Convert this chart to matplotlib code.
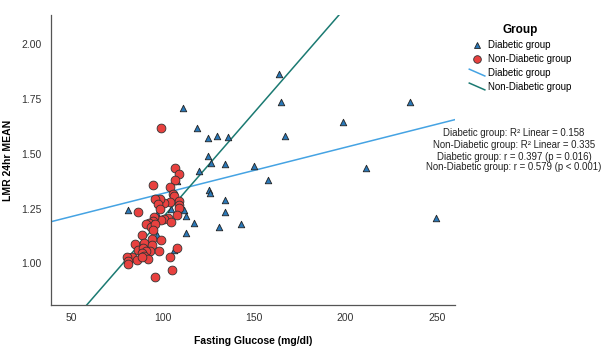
import matplotlib
matplotlib.use('Agg')
import matplotlib.pyplot as plt
from matplotlib.lines import Line2D
from matplotlib.legend_handler import HandlerBase
import numpy as np

plt.rcParams['font.family'] = ['Liberation Sans', 'DejaVu Sans']

# Diabetic group (triangles)
diab_x = [81, 97, 97, 104.5, 106, 108, 111, 112, 113, 113, 117, 119, 119.7, 125, 125,
          125.2, 126, 126.7, 130, 131, 133.9, 133.9, 133.9, 135.8, 142.9, 149.8, 157.6,
          163.8, 164.8, 166.7, 198.6, 211.4, 235.4, 249.5]
diab_y = [1.245, 1.225, 1.13, 1.248, 1.06, 1.377, 1.71, 1.245, 1.215, 1.14, 1.183, 1.616,
          1.42, 1.571, 1.49, 1.335, 1.32, 1.457, 1.583, 1.167, 1.452, 1.289, 1.236, 1.575,
          1.178, 1.443, 1.38, 1.864, 1.735, 1.583, 1.644, 1.437, 1.738, 1.208]

# Non-Diabetic group (circles)
nond_x = [99, 95, 106.6, 109, 106.8, 103.9, 105.6, 106, 109.2, 109.2, 109.2, 103.9, 100.6,
          98.8, 96.1, 97.5, 98.5, 86.8, 107.9, 103, 100.8, 104.8, 99, 95.2, 94.6, 92.8, 91,
          93.7, 95.7, 94.8, 94.3, 99, 88.8, 85.2, 89.7, 86.4, 89.3, 94, 93.2, 98.3, 91.2,
          88.8, 89.7, 92.1, 83.3, 80.6, 81.1, 81.1, 86, 88.8, 104, 107.9, 105, 96.1]
nond_y = [1.62, 1.36, 1.435, 1.41, 1.38, 1.35, 1.317, 1.31, 1.283, 1.268, 1.254, 1.279, 1.275,
          1.292, 1.292, 1.27, 1.25, 1.233, 1.219, 1.205, 1.204, 1.19, 1.196, 1.21, 1.195, 1.186,
          1.18, 1.166, 1.18, 1.152, 1.113, 1.108, 1.129, 1.087, 1.094, 1.062, 1.068, 1.085,
          1.056, 1.058, 1.056, 1.046, 1.033, 1.021, 1.03, 1.027, 1.012, 0.995, 1.014, 1.03,
          1.027, 1.068, 0.97, 0.939]

# linear fits (intercept, slope)
diab_fit = [1.108, 0.00211]
nond_fit = [0.248, 0.0096]

stats_lines = ['Diabetic group: R² Linear = 0.158',
               'Non-Diabetic group: R² Linear = 0.335',
               'Diabetic group: r = 0.397 (p = 0.016)',
               'Non-Diabetic group: r = 0.579 (p < 0.001)']

BLUE_LINE = '#45a3e3'
TEAL_LINE = '#1b7a72'
TRI_FILL = '#2a78b8'
CIRC_FILL = '#e8413f'


class DiagLineHandler(HandlerBase):
    # slanted line swatch like the SPSS legend
    def create_artists(self, legend, orig, xd, yd, w, h, fontsize, trans):
        ln = Line2D([xd, xd + w], [yd + h, yd], color=orig.get_color(),
                    lw=orig.get_linewidth(), transform=trans)
        return [ln]


fig = plt.figure(figsize=(6.02, 3.46), dpi=100)
ax = fig.add_axes([0.0847, 0.1185, 0.6713, 0.838])

xmin, xmax = 39, 260
ymin, ymax = 0.81, 2.134
xx = np.array([xmin, xmax])

ax.plot(xx, diab_fit[0] + diab_fit[1] * xx, color=BLUE_LINE, lw=1.1, zorder=2)
ax.plot(xx, nond_fit[0] + nond_fit[1] * xx, color=TEAL_LINE, lw=1.1, zorder=2)

ax.scatter(diab_x, diab_y, marker='^', s=22, facecolor=TRI_FILL, edgecolor='#222222',
           linewidths=0.6, zorder=3)
ax.scatter(nond_x, nond_y, marker='o', s=40, facecolor=CIRC_FILL, edgecolor='#333333',
           linewidths=0.6, zorder=4)

ax.set_xlim(xmin, xmax)
ax.set_ylim(ymin, ymax)
ax.set_xticks([50, 100, 150, 200, 250])
ax.set_yticks([1.00, 1.25, 1.50, 1.75, 2.00])
ax.set_yticklabels(['1.00', '1.25', '1.50', '1.75', '2.00'])
ax.tick_params(axis='x', length=0, labelsize=7.5, colors='#333333', pad=6)
ax.tick_params(axis='y', length=0, labelsize=7.5, colors='#333333', pad=7)
for s in ['top', 'right']:
    ax.spines[s].set_visible(False)
for s in ['left', 'bottom']:
    ax.spines[s].set_color('#555555')
    ax.spines[s].set_linewidth(0.9)

ax.set_xlabel('Fasting Glucose (mg/dl)', fontsize=7.5, fontweight='bold')
ax.set_ylabel('LMR 24hr MEAN', fontsize=7.5, fontweight='bold')
ax.xaxis.set_label_coords(0.5, -0.108)
ax.yaxis.set_label_coords(-0.095, 0.5)

handles = [
    Line2D([], [], marker='^', ls='none', markersize=4.5, markerfacecolor=TRI_FILL,
           markeredgecolor='#222222', markeredgewidth=0.6),
    Line2D([], [], marker='o', ls='none', markersize=5.5, markerfacecolor=CIRC_FILL,
           markeredgecolor='#333333', markeredgewidth=0.6),
    Line2D([], [], color=BLUE_LINE, lw=1.1),
    Line2D([], [], color=TEAL_LINE, lw=1.1),
]
labels = ['Diabetic group', 'Non-Diabetic group', 'Diabetic group', 'Non-Diabetic group']
leg = fig.legend(handles, labels, title='Group', loc='upper left',
                 bbox_to_anchor=(0.765, 0.955), frameon=False, fontsize=7,
                 title_fontproperties={'weight': 'bold', 'size': 8.5},
                 handlelength=1.6, handletextpad=0.3, labelspacing=0.4,
                 handler_map={handles[2]: DiagLineHandler(),
                              handles[3]: DiagLineHandler()})

ys = [133, 145, 157, 166.5]
for txt, ypx in zip(stats_lines, ys):
    fig.text(514 / 602, 1 - ypx / 346, txt, ha='center', va='center', fontsize=6.9,
             color='#222222')

fig.savefig('out.png', dpi=100)
